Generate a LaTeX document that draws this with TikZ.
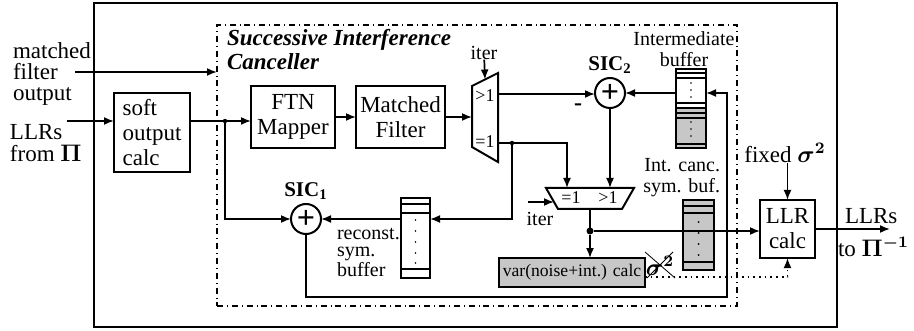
\documentclass[tikz,border=0pt]{standalone}
\usepackage{fontspec}
\setmainfont{Liberation Serif}
\usepackage{amsmath,amssymb}
\usetikzlibrary{arrows.meta,positioning,calc}

\begin{document}
\begin{tikzpicture}[x=0.5pt, y=-0.5pt,
  font=\fontsize{11.5}{12.5}\selectfont,
  every node/.style={inner sep=0pt, outer sep=0pt},
  box/.style={draw, line width=1pt, align=center},
  graybox/.style={box, fill=black!22},
  arrow/.style={-{Latex[length=5pt,width=4pt]}, line width=0.85pt},
  wire/.style={line width=0.85pt},
  summer/.style={draw, circle, line width=1pt, minimum size=15pt, font=\bfseries\fontsize{16}{16}\selectfont},
  junction/.style={circle, fill, minimum size=#1},
  junction/.default=2.2pt,
  small/.style={font=\fontsize{10}{10.5}\selectfont},
  muxlbl/.style={font=\fontsize{9}{9}\selectfont},
  siclbl/.style={font=\fontsize{10.5}{10.5}\selectfont},
  cell/.style={line width=0.8pt}
]
\useasboundingbox (0,0) rectangle (914,331);

% frames
\draw[line width=0.65pt] (94,3) rectangle (837,327);
\node[draw, dash dot, line width=0.6pt, minimum width=260pt, minimum height=140.5pt, anchor=north west] (sic) at (217,25) {};
\node[anchor=north west, align=left, font=\bfseries\itshape\fontsize{11.5}{12}\selectfont] (sictitle) at (227,29) {Successive Interference\\Canceller};

% inputs
\node[anchor=north west, align=left, font=\fontsize{11.5}{10.5}\selectfont] (mfo) at (13,43) {matched\\filter\\output};
\coordinate (mfoend) at (75,72);
\draw[arrow] (mfoend) -- (mfoend -| sic.west);
\node[anchor=north west, align=left, font=\fontsize{11.5}{11}\selectfont] (llrin) at (10,124) {LLRs\\from $\boldsymbol{\Pi}$};
\coordinate (llrstart) at (67,121);

% soft output, mapper, filter
\node[box, align=left, minimum width=38pt, minimum height=39.5pt] (soft) at (152,132.5) {soft\\output\\calc};
\draw[arrow] (llrstart) -- (llrstart -| soft.west);
\node[box, minimum width=42pt, minimum height=31pt] (ftn) at (293,117) {FTN\\Mapper};
\node[box, minimum width=44.5pt, minimum height=31pt] (mf) at (400.5,117) {Matched\\Filter};
\node[junction] (j1) at (225,121) {};
\draw[wire] (llrstart -| soft.east) -- (j1);
\draw[arrow] (j1) -- (j1 -| ftn.west);
\draw[arrow] (ftn) -- (mf);

% first mux
\draw[line width=1pt] (472,86) -- (498,73) -- (498,162) -- (472,147) -- cycle;
\coordinate (m1in) at (472,117);
\coordinate (m1gt) at (498,94);
\coordinate (m1eq) at (498,143);
\coordinate (m1sel) at (485,79.5);
\node[muxlbl] (m1gtlbl) at (485,96) {>1};
\node[muxlbl] (m1eqlbl) at (485,142) {=1};
\draw[arrow] (mf) -- (m1in);
\node[small] (iter1) at (484,53) {iter};
\draw[arrow] (iter1) -- (m1sel);

% SIC2
\node[summer] (sic2) at (610,93) {+};
\node[siclbl, above=2pt of sic2] (sic2lbl) {$\mathbf{SIC_2}$};
\node[font=\bfseries\fontsize{12}{12}\selectfont] (minus) at (578,107) {-};
\draw[arrow] (m1gt) -- (m1gt -| sic2.west);

% intermediate buffer
\node[minimum width=15pt, minimum height=39.5pt, anchor=north west] (ibuf) at (676,69) {};
\fill[black!22] (676,108) rectangle (706,148);
\draw[cell] (676,69) rectangle (706,148);
\foreach \y in {73,78,103,108,113,118,144} \draw[cell] (676,\y) -- (706,\y);
\foreach \y in {83,90,97,122,129,136} \fill (691,\y) circle (0.4pt);
\node[small, align=center] (ibuflbl) at (684,49) {Intermediate\\buffer};
\draw[arrow] (ibuf.west |- sic2) -- (sic2.east);

% second mux
\draw[line width=1pt] (546,188) -- (634,188) -- (622,209) -- (558,209) -- cycle;
\coordinate (m2eq) at (567,188);
\coordinate (m2gt) at (610,188);
\coordinate (m2out) at (590,209);
\coordinate (m2sel) at (554,202);
\node[muxlbl] (m2eqlbl) at (571,198) {=1};
\node[muxlbl] (m2gtlbl) at (608,198) {>1};
\node[junction] (j2) at (512,143) {};
\draw[arrow] (m1eq) -| (m2eq);
\draw[arrow] (sic2.south) -- (m2gt);
\node[small] (iter2) at (540,219) {iter};
\coordinate (m2selstart) at (528,202);
\draw[arrow] (m2selstart) -- (m2sel);

% reconstructed symbol buffer
\node[minimum width=14.5pt, minimum height=40pt, anchor=north west] (rbuf) at (401,198) {};
\draw[cell] (401,198) rectangle (430,278);
\foreach \y in {204,213} \draw[cell] (401,\y) -- (430,\y);
\draw[line width=1.2pt] (401,269) -- (430,269);
\foreach \y in {220,231,242,253,263} \fill (415.5,\y) circle (0.4pt);
\node[font=\fontsize{10}{8.5}\selectfont, align=left, anchor=north west] (rbuflbl) at (337,228) {reconst.\\sym.\\buffer};
\draw[arrow] (j2) |- (rbuf.east |- 0,219);

% SIC1 and feedback
\node[summer] (sic1) at (306,219) {+};
\node[siclbl, above=2pt of sic1] (sic1lbl) {$\mathbf{SIC_1}$};
\draw[arrow] (j1) |- (sic1.west);
\draw[arrow] (rbuf.west |- sic1) -- (sic1.east);
\coordinate (fbcorner) at (727,297);
\draw[arrow] (sic1.south) |- (fbcorner) |- (ibuf.east |- sic2);

% variance estimate
\node[graybox, minimum width=73pt, minimum height=14.5pt, font=\fontsize{8.8}{9}\selectfont] (var) at (572,272.5) {var(noise+int.) calc};
\node[junction=3.5pt] (j3) at (590,231) {};
\draw[wire] (m2out) -- (j3);
\draw[arrow] (j3) -- (j3 |- var.north);

% interference cancelled symbol buffer
\node[minimum width=15.5pt, minimum height=35pt, anchor=north west] (cbuf) at (683,200) {};
\fill[black!22] (683,200) rectangle (714,270);
\draw[cell] (683,200) rectangle (714,270);
\foreach \y in {206,213,262} \draw[cell] (683,\y) -- (714,\y);
\foreach \y in {222,233,244,255} \fill (698.5,\y) circle (0.5pt);
\node[small, align=right, anchor=east] (cbuflbl) at (720,178) {Int. canc.\\sym. buf.};

% LLR calc
\node[box, minimum width=27.5pt, minimum height=29pt] (llr) at (787.5,229) {LLR\\calc};
\draw[arrow] (j3) -- (j3 -| llr.west);
\node (fixed) at (785,153) {fixed $\boldsymbol{\sigma^2}$};
\draw[arrow] (fixed.south -| llr.north) -- (llr.north);
\coordinate (llrout) at (890,229);
\draw[arrow] (llr.east) -- (llrout);
\node[anchor=west] (outlbl1) at (845,216) {LLRs};
\node[anchor=west] (outlbl2) at (838,247) {to $\boldsymbol{\Pi^{-1}}$};

% crossed sigma and dotted link
\node (sigx) at (660,266) {$\boldsymbol{\sigma^2}$};
\draw[line width=0.4pt] (645,252) -- (675,278) (647,278) -- (673,252);
\draw[arrow, dotted] (var.east |- 0,277) -| (llr.south);
\end{tikzpicture}
\end{document}
